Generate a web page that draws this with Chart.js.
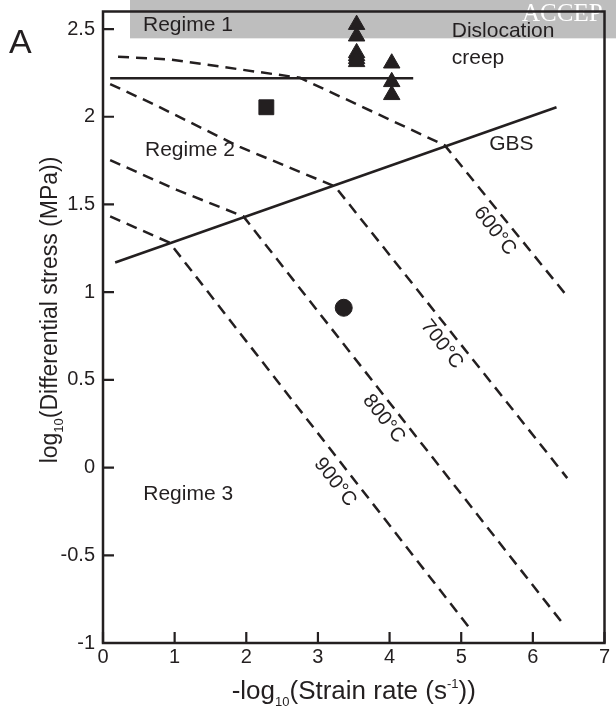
<!DOCTYPE html>
<html>
<head>
<meta charset="utf-8">
<script src="https://cdn.jsdelivr.net/npm/chart.js@4.4.0/dist/chart.umd.min.js"></script>
<style>
  html, body { margin: 0; padding: 0; background: #fff; }
  #chart { display: block; }
</style>
</head>
<body>
<canvas id="chart" width="616" height="709"></canvas>
<script>
const INK = '#231f20';
const FONT = "'Liberation Sans', Arial, Helvetica, sans-serif";

// axis ticks
const xTicks = [0, 1, 2, 3, 4, 5, 6, 7];
const yTicks = [-1, -0.5, 0, 0.5, 1, 1.5, 2, 2.5];

// regime boundaries (solid)
const regime1X = [0.1, 4.33];
const regime1Y = [2.22, 2.22];
const gbsX = [0.17, 6.33];
const gbsY = [1.169, 2.054];

// isotherms (dashed)
const iso600X = [0.21, 0.93, 1.91, 2.75, 4.77, 6.49];
const iso600Y = [2.342, 2.327, 2.27, 2.222, 1.837, 0.971];
const iso700X = [0.1, 0.70, 1.91, 3.24, 6.48];
const iso700Y = [2.186, 2.073, 1.828, 1.602, -0.06];
const iso800X = [0.1, 1.03, 1.96, 6.42];
const iso800Y = [1.753, 1.583, 1.432, -0.89];
const iso900X = [0.1, 0.93, 5.14];
const iso900Y = [1.432, 1.282, -0.927];

// experiments
const triX = [3.54, 3.54, 3.54, 3.54, 3.54, 3.54, 4.03, 4.03, 4.03];
const triY = [2.525, 2.459, 2.364, 2.347, 2.330, 2.313, 2.305, 2.199, 2.125];
const squareX = [2.28];
const squareY = [2.054];
const circleX = [3.36];
const circleY = [0.911];

// isotherm labels, anchored in data units
const isoLabels = ['600°C', '700°C', '800°C', '900°C'];
const isoLabelX = [5.47, 4.73, 3.92, 3.24];
const isoLabelY = [1.349, 0.702, 0.278, -0.084];

// field labels (left aligned)
const notes = [
  { text: 'Regime 1', x: 0.558, y: 2.5 },
  { text: 'Regime 2', x: 0.586, y: 1.784 },
  { text: 'Regime 3', x: 0.562, y: -0.175 },
  { text: 'Dislocation', x: 4.868, y: 2.463 },
  { text: 'creep', x: 4.868, y: 2.309 },
  { text: 'GBS', x: 5.39, y: 1.823 }
];

// grey strip behind the top of the plot
const bandStartX = 0.377;
const bandBottomY = 2.447;

const pts = (xs, ys) => xs.map((x, i) => ({ x, y: ys[i] }));

function lineSet(xs, ys, dashed) {
  return {
    data: pts(xs, ys),
    showLine: true,
    borderColor: INK,
    borderWidth: 2.5,
    borderDash: dashed ? [11, 7] : [],
    pointRadius: 0,
    tension: 0,
    fill: false
  };
}

function markerSet(xs, ys, style, radius) {
  return {
    data: pts(xs, ys),
    showLine: false,
    pointStyle: style,
    pointRadius: radius,
    pointBackgroundColor: INK,
    pointBorderColor: INK,
    pointBorderWidth: 1
  };
}

// text with sub/superscript pieces, centred on cx
function drawRich(ctx, parts, cx, baseline, size, ratio) {
  const small = Math.round(size * ratio);
  const widths = parts.map(([t, k]) => {
    ctx.font = (k === 'n' ? size : small) + 'px ' + FONT;
    return ctx.measureText(t).width;
  });
  const total = widths.reduce((a, b) => a + b, 0);
  let x = cx - total / 2;
  ctx.textAlign = 'left';
  ctx.textBaseline = 'alphabetic';
  parts.forEach(([t, k], i) => {
    ctx.font = (k === 'n' ? size : small) + 'px ' + FONT;
    const dy = k === 'sub' ? size * 0.28 : k === 'sup' ? -size * 0.42 : 0;
    ctx.fillText(t, x, baseline + dy);
    x += widths[i];
  });
}

const decor = {
  id: 'decor',
  beforeDraw(chart) {
    const { ctx, scales: { x, y }, chartArea } = chart;
    ctx.save();
    ctx.fillStyle = '#fff';
    ctx.fillRect(0, 0, chart.width, chart.height);
    const bx = x.getPixelForValue(bandStartX);
    const by = y.getPixelForValue(bandBottomY);
    ctx.fillStyle = '#bebebe';
    ctx.fillRect(bx, 0, chart.width - bx, by);
    ctx.beginPath();
    ctx.rect(bx, 0, chartArea.right - 2 - bx, by);
    ctx.clip();
    ctx.fillStyle = '#fff';
    ctx.font = "25px 'Liberation Serif', 'Times New Roman', serif";
    ctx.textBaseline = 'alphabetic';
    ctx.fillText('ACCEPTED MANUSCRIPT', 522, 21);
    ctx.restore();
  },
  afterDatasetsDraw(chart) {
    const { ctx, scales: { x, y }, chartArea: a } = chart;
    ctx.save();
    ctx.strokeStyle = INK;
    ctx.lineWidth = 2.5;
    ctx.strokeRect(a.left, a.top, a.right - a.left, a.bottom - a.top);

    // inward tick marks
    ctx.lineWidth = 2.2;
    ctx.beginPath();
    xTicks.forEach(v => {
      const px = x.getPixelForValue(v);
      ctx.moveTo(px, a.bottom);
      ctx.lineTo(px, a.bottom - 11);
    });
    yTicks.forEach(v => {
      const py = y.getPixelForValue(v);
      ctx.moveTo(a.left, py);
      ctx.lineTo(a.left + 11, py);
    });
    ctx.stroke();

    ctx.fillStyle = INK;
    ctx.font = '21px ' + FONT;
    ctx.textAlign = 'left';
    ctx.textBaseline = 'middle';
    notes.forEach(n => {
      ctx.fillText(n.text, x.getPixelForValue(n.x), y.getPixelForValue(n.y) - 4);
    });

    // isotherm labels run along the steep part of each line
    ctx.font = '20px ' + FONT;
    ctx.textAlign = 'center';
    isoLabels.forEach((t, i) => {
      ctx.save();
      ctx.translate(x.getPixelForValue(isoLabelX[i]), y.getPixelForValue(isoLabelY[i]));
      ctx.rotate(52 * Math.PI / 180);
      ctx.fillText(t, 0, 0);
      ctx.restore();
    });

    // panel letter
    ctx.font = '34px ' + FONT;
    ctx.textAlign = 'left';
    ctx.textBaseline = 'alphabetic';
    ctx.fillText('A', 9, 53);

    // axis titles
    drawRich(ctx, [['-log', 'n'], ['10', 'sub'], ['(Strain rate (s', 'n'], ['-1', 'sup'], ['))', 'n']],
      (a.left + a.right) / 2, 699, 26, 0.5);
    ctx.translate(57, 310);
    ctx.rotate(-Math.PI / 2);
    drawRich(ctx, [['log', 'n'], ['10', 'sub'], ['(Differential stress (MPa))', 'n']], 0, 0, 23, 0.55);
    ctx.restore();
  }
};

new Chart(document.getElementById('chart'), {
  type: 'scatter',
  data: {
    datasets: [
      markerSet(triX, triY, 'triangle', 9.5),
      markerSet(squareX, squareY, 'rect', 10.5),
      markerSet(circleX, circleY, 'circle', 8.5),
      lineSet(regime1X, regime1Y, false),
      lineSet(gbsX, gbsY, false),
      lineSet(iso600X, iso600Y, true),
      lineSet(iso700X, iso700Y, true),
      lineSet(iso800X, iso800Y, true),
      lineSet(iso900X, iso900Y, true)
    ]
  },
  options: {
    responsive: false,
    animation: false,
    devicePixelRatio: 1,
    layout: { padding: { top: 5, right: 11, left: 0, bottom: 0 } },
    plugins: { legend: { display: false }, tooltip: { enabled: false } },
    scales: {
      x: {
        type: 'linear',
        min: 0,
        max: 7,
        afterBuildTicks: s => { s.ticks = xTicks.map(v => ({ value: v })); },
        afterFit: s => { s.height = 66; s.paddingLeft = 0; s.paddingRight = 0; },
        grid: { display: false, drawTicks: false },
        border: { display: false },
        ticks: {
          color: INK,
          font: { family: FONT, size: 20 },
          padding: 2,
          maxRotation: 0,
          autoSkip: false,
          callback: v => String(v)
        }
      },
      y: {
        type: 'linear',
        min: -1,
        max: 2.6,
        afterBuildTicks: s => { s.ticks = yTicks.map(v => ({ value: v })); },
        afterFit: s => { s.width = 103; s.paddingTop = 0; s.paddingBottom = 0; },
        grid: { display: false, drawTicks: false },
        border: { display: false },
        ticks: {
          color: INK,
          font: { family: FONT, size: 20 },
          padding: 8,
          autoSkip: false,
          callback: v => String(v)
        }
      }
    }
  },
  plugins: [decor]
});
</script>
</body>
</html>
